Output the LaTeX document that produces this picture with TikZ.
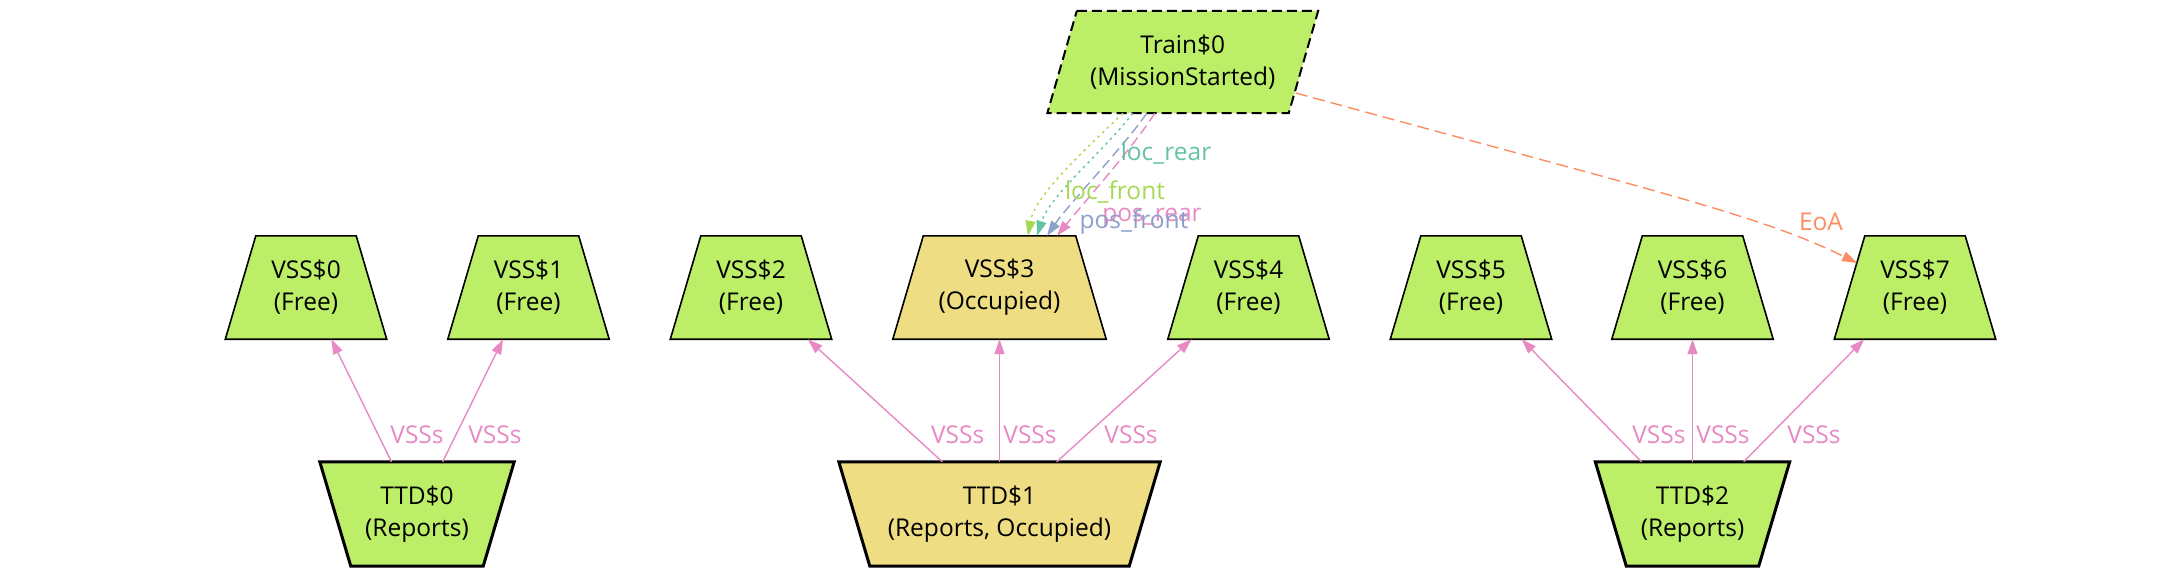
\documentclass[tikz,border=0pt]{standalone}
\usepackage{fontspec}
\setmainfont{Open Sans}
\usetikzlibrary{arrows.meta,backgrounds}
\definecolor{gfill}{HTML}{BCEE68}
\definecolor{yfill}{HTML}{EEDD82}
\definecolor{cpink}{HTML}{E78AC3}
\definecolor{cteal}{HTML}{66C2A5}
\definecolor{cgreen}{HTML}{A6D854}
\definecolor{cblue}{HTML}{8DA0CB}
\definecolor{corange}{HTML}{FC8D62}
\newcommand{\vssshape}[2]{\path[thinborder, fill=#2] (#1.south west) -- (#1.south east) -- ([xshift=-30.5pt]#1.north east) -- ([xshift=30.5pt]#1.north west) -- cycle;}
\newcommand{\ttdshape}[2]{\path[thickborder, fill=#2] (#1.north west) -- (#1.north east) -- ([xshift=-31pt]#1.south east) -- ([xshift=31pt]#1.south west) -- cycle;}
\begin{document}
\begin{tikzpicture}[x=1pt,y=-1pt,
  txt/.style={font=\fontsize{24.5}{32}\selectfont, align=center, inner sep=0pt},
  vss/.style={txt, minimum height=103pt, minimum width=161pt},
  ttd/.style={txt, minimum height=104pt, minimum width=194pt},
  thinborder/.style={draw=black, line width=1.6pt, line join=miter},
  thickborder/.style={draw=black, line width=3pt, line join=miter},
  edgeline/.style={line width=1.4pt, -{Triangle[length=15pt,width=10pt]}},
  vssedge/.style={edgeline, draw=cpink},
  vlab/.style={txt, text=cpink, pos=0.22},
  elab/.style={txt, anchor=base},
  dotline/.style={dash pattern=on 2.5pt off 4pt},
  dashline/.style={dash pattern=on 10pt off 5pt},
]
\path[use as bounding box] (0,0) rectangle (2160,576);

% Train
\node[txt, minimum width=241pt, minimum height=102pt] (tr) at (1182.75,62) {Train\$0\\(MissionStarted)};

% VSS nodes
\node[vss] (v0) at (306,287.5) {VSS\$0\\(Free)};
\node[vss] (v1) at (528.5,287.5) {VSS\$1\\(Free)};
\node[vss] (v2) at (751,287.5) {VSS\$2\\(Free)};
\node[vss, minimum width=213pt] (v3) at (999.5,287.5) {VSS\$3\\(Occupied)};
\node[vss] (v4) at (1248.5,287.5) {VSS\$4\\(Free)};
\node[vss] (v5) at (1471,287.5) {VSS\$5\\(Free)};
\node[vss] (v6) at (1692.5,287.5) {VSS\$6\\(Free)};
\node[vss] (v7) at (1915,287.5) {VSS\$7\\(Free)};

% TTD nodes
\node[ttd] (t0) at (417,514) {TTD\$0\\(Reports)};
\node[ttd, minimum width=321pt] (t1) at (999.5,514) {TTD\$1\\(Reports, Occupied)};
\node[ttd] (t2) at (1692.5,514) {TTD\$2\\(Reports)};

% shapes
\begin{pgfonlayer}{background}
\path[draw=black, line width=2pt, dashline, fill=gfill, line join=miter]
  ([xshift=14.75pt]tr.north west) -- ([xshift=14.75pt]tr.north east)
  -- ([xshift=-14.75pt]tr.south east) -- ([xshift=-14.75pt]tr.south west) -- cycle;
\vssshape{v0}{gfill}
\vssshape{v1}{gfill}
\vssshape{v2}{gfill}
\vssshape{v3}{yfill}
\vssshape{v4}{gfill}
\vssshape{v5}{gfill}
\vssshape{v6}{gfill}
\vssshape{v7}{gfill}
\ttdshape{t0}{gfill}
\ttdshape{t1}{yfill}
\ttdshape{t2}{gfill}
\end{pgfonlayer}

% TTD -> VSS edges
\draw[vssedge] (t0) -- (v0) node[vlab, xshift=38.8pt] {VSSs};
\draw[vssedge] (t0) -- (v1) node[vlab, xshift=39pt] {VSSs};
\draw[vssedge] (t1) -- (v2) node[vlab, xshift=45pt] {VSSs};
\draw[vssedge] (t1) -- (v3) node[vlab, xshift=30.5pt] {VSSs};
\draw[vssedge] (t1) -- (v4) node[vlab, xshift=44.6pt] {VSSs};
\draw[vssedge] (t2) -- (v5) node[vlab, xshift=43.8pt] {VSSs};
\draw[vssedge] (t2) -- (v6) node[vlab, xshift=30.5pt] {VSSs};
\draw[vssedge] (t2) -- (v7) node[vlab, xshift=43.8pt] {VSSs};

% Train -> VSS$3 edges
\draw[edgeline, draw=cgreen, dotline] ([xshift=-60pt]tr.south) .. controls (1085,150) and (1035,195) .. ([xshift=28.5pt]v3.north);
\draw[edgeline, draw=cteal, dotline] ([xshift=-50pt]tr.south) .. controls (1105,150) and (1050,195) .. ([xshift=37.5pt]v3.north);
\draw[edgeline, draw=cblue, dashline] ([xshift=-36pt]tr.south) .. controls (1125,145) and (1068,205) .. ([xshift=47.5pt]v3.north);
\draw[edgeline, draw=cpink, dashline] ([xshift=-28pt]tr.south) .. controls (1135,145) and (1082,205) .. ([xshift=57.5pt]v3.north);
\node[elab, text=cteal] (lrear) at (1166,160) {loc\_rear};
\node[elab, text=cgreen] (lfront) at (1115,199) {loc\_front};
\node[elab, text=cpink] (prear) at (1152,221) {pos\_rear};
\node[elab, text=cblue] (pfront) at (1134,228) {pos\_front};

% Train -> VSS$7
\draw[edgeline, draw=corange, dash pattern=on 12pt off 6pt] ([xshift=113pt,yshift=-31pt]tr.center) .. controls (1650,190) and (1760,215) .. ([xshift=-58pt,yshift=24.5pt]v7.center);
\node[elab, text=corange] (eoa) at (1821,230) {EoA};
\end{tikzpicture}
\end{document}
